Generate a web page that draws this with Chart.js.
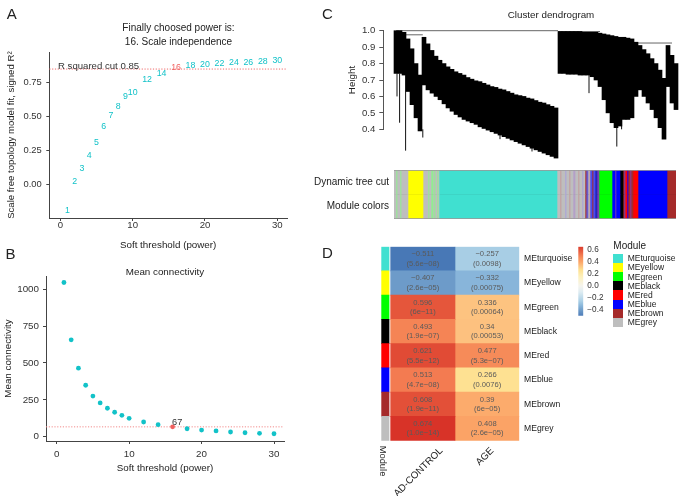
<!DOCTYPE html>
<html>
<head>
<meta charset="utf-8">
<script src="https://cdn.jsdelivr.net/npm/chart.js@4.4.1/dist/chart.umd.min.js"></script>
<style>
  html, body { margin: 0; padding: 0; background: #fff; }
  #page { position: relative; width: 679px; height: 496px; overflow: hidden;
          font-family: "Liberation Sans", Arial, sans-serif; color: #222; }
  #page canvas { position: absolute; left: 0; top: 0; }
  .t { position: absolute; white-space: nowrap; line-height: 1; }
</style>
</head>
<body>
<div id="page">
  <canvas id="fitChart" width="679" height="496"></canvas>
  <canvas id="kChart" width="679" height="496"></canvas>
  <canvas id="dendroChart" width="679" height="496"></canvas>
  <canvas id="stripChart" width="679" height="496"></canvas>
  <canvas id="heatChart" width="679" height="496"></canvas>
  <canvas id="scaleChart" width="679" height="496"></canvas>
</div>
<script>
// ---- panel A / B: soft threshold ----
const powers = [1, 2, 3, 4, 5, 6, 7, 8, 9, 10, 12, 14, 16, 18, 20, 22, 24, 26, 28, 30]
const scaleFitR2 = [-0.19, 0.02, 0.12, 0.215, 0.31, 0.43, 0.505, 0.575, 0.65, 0.675,
  0.77, 0.82, 0.863, 0.875, 0.885, 0.89, 0.9, 0.9, 0.905, 0.915]
const meanConnectivity = [1046, 657, 465, 349, 276, 229, 193, 166, 145, 125,
  100, 82, 67, 54, 45, 39, 32, 27, 23, 20]
const chosenPower = 16
const rSquaredCut = 0.85
const fitTicksX = [0, 10, 20, 30]
const fitTicksY = [0, 0.25, 0.5, 0.75]
const kTicksY = [0, 250, 500, 750, 1000]

// ---- panel C: dendrogram (4 px leaf bins) and module colour strip ----
const dendroLow = [0.74, 0.74, 0.73,
  0.63, 0.55, 0.47, 0.39,
  0.67, 0.64, 0.62, 0.60, 0.58, 0.555, 0.53, 0.51, 0.49, 0.475,
  0.46, 0.45, 0.44, 0.43, 0.415, 0.405, 0.395, 0.385, 0.375, 0.365,
  0.355, 0.345, 0.335, 0.325, 0.315, 0.305, 0.295, 0.285, 0.275, 0.265,
  0.255, 0.245, 0.235, 0.225,
  0.74, 0.74, 0.735, 0.735, 0.735, 0.73, 0.73, 0.73, 0.72,
  0.70, 0.66, 0.58, 0.50, 0.44, 0.41, 0.42, 0.46, 0.46, 0.47,
  0.60, 0.64, 0.60, 0.56, 0.52, 0.47, 0.41, 0.34,
  0.66, 0.56, 0.52]
const dendroHigh = [1.0, 1.0, 0.99,
  0.95, 0.89, 0.80, 0.73,
  0.96, 0.92, 0.88, 0.845, 0.82, 0.80, 0.78, 0.765, 0.75, 0.74,
  0.73, 0.715, 0.705, 0.695, 0.69, 0.68, 0.67, 0.66, 0.655, 0.645,
  0.64, 0.63, 0.62, 0.61, 0.605, 0.60, 0.59, 0.585, 0.575, 0.565,
  0.56, 0.55, 0.54, 0.53,
  0.995, 0.995, 0.995, 0.995, 0.995, 0.995, 0.99, 0.99, 0.99,
  0.99, 0.985, 0.98, 0.975, 0.97, 0.965, 0.96, 0.96, 0.955, 0.95,
  0.93, 0.91, 0.885, 0.86, 0.83, 0.80, 0.76, 0.71,
  0.91, 0.85, 0.80]
const spikeBin = [0.25, 0.9, 2.4, 6.7, 26, 34, 48.25, 55.2, 56.4]
const spikeLow = [0.60, 0.44, 0.27, 0.35, 0.34, 0.265, 0.62, 0.295, 0.40]
const spikeTop = [0.74, 0.74, 0.73, 0.40, 0.37, 0.29, 0.73, 0.41, 0.42]
const mergeFrom = [0, 2.4, 40.5, 57.5]
const mergeTo = [40.5, 6.7, 51, 69]
const mergeHeight = [1.0, 0.975, 0.995, 0.925]
const dendroTicks = [0.4, 0.5, 0.6, 0.7, 0.8, 0.9, 1.0]

const stripModule = ['grey', 'lightgreen', 'grey', 'lightgreen', 'grey', 'yellow', 'grey', 'lightgreen',
  'grey', 'lightgreen', 'grey', 'lightgreen', 'grey', 'lightgreen', 'grey', 'turquoise',
  'grey', 'rosy', 'grey', 'lavender', 'grey', 'rosy', 'grey', 'mauve', 'grey', 'rosy', 'grey',
  'lavender', 'grey', 'brown', 'slate', 'grey', 'rosy', 'midblue', 'brown', 'midblue', 'darkblue',
  'purple', 'green', 'blue', 'purple', 'blue', 'black', 'brown', 'purple', 'red', 'blue', 'brown',
  'purple', 'brown', 'red', 'blue', 'brown']
const stripWidth = [2, 1, 3, 1, 7, 15, 5, 1,
  2, 2, 1, 1, 2, 1, 1, 118,
  3, 1, 4, 1, 3, 1, 3, 2, 3, 1, 3,
  1, 2, 1, 2, 1, 1, 2, 1, 2, 2,
  2, 13, 3, 1, 4, 3, 1, 1, 2, 1, 2,
  1, 2, 5, 29, 9]
const stripRows = ['Dynamic tree cut', 'Module colors']

// ---- panel D: module-trait relationships ----
const moduleNames = ['MEturquoise', 'MEyellow', 'MEgreen', 'MEblack', 'MEred', 'MEblue', 'MEbrown', 'MEgrey']
const moduleKeys = ['turquoise', 'yellow', 'green', 'black', 'red', 'blue', 'brown', 'grey']
const traitNames = ['AD-CONTROL', 'AGE']
const corAD = [-0.511, -0.407, 0.596, 0.493, 0.621, 0.513, 0.608, 0.674]
const pAD = ['5.6e\u221208', '2.6e\u221205', '6e\u221211', '1.9e\u221207', '5.5e\u221212', '4.7e\u221208', '1.9e\u221211', '1.0e\u221214']
const corAge = [-0.257, -0.332, 0.336, 0.34, 0.477, 0.266, 0.39, 0.408]
const pAge = ['0.0098', '0.00075', '0.00064', '0.00053', '5.3e\u221207', '0.0076', '6e\u221205', '2.6e\u221205']
const scaleTicks = [-0.4, -0.2, 0, 0.2, 0.4, 0.6]

// ---- styles ----
const FONT = '"Liberation Sans", Arial, sans-serif'
Chart.defaults.font.family = FONT
Chart.defaults.color = '#222'
Chart.defaults.animation = false

const cyan = '#12c2c8'
const red = '#f0605f'
const colorOf = {
  grey: '#bebebe', lightgreen: '#90ee90', yellow: '#ffff00', turquoise: '#40e0d0',
  green: '#00ff00', blue: '#0000ff', black: '#000000', red: '#ff0000', brown: '#a52a2a',
  rosy: '#c39a9a', lavender: '#a8a0dc', mauve: '#b49fc8', slate: '#6a5acd',
  purple: '#7b3fb0', darkblue: '#2424bb', midblue: '#4b4bef'
}
const heatStops = [
  [-0.52, [69, 117, 180]], [-0.40, [111, 157, 202]], [-0.33, [137, 182, 218]],
  [-0.25, [171, 208, 230]], [-0.10, [222, 236, 242]], [0.0, [245, 244, 238]],
  [0.15, [253, 241, 190]], [0.27, [254, 224, 144]], [0.34, [253, 193, 127]],
  [0.40, [252, 166, 104]], [0.48, [246, 138, 88]], [0.51, [243, 124, 82]],
  [0.60, [228, 84, 58]], [0.68, [215, 48, 39]]
]
function heatColor(v) {
  if (v <= heatStops[0][0]) return 'rgb(' + heatStops[0][1].join(',') + ')'
  for (let i = 1; i < heatStops.length; i++) {
    const [v1, c1] = heatStops[i]
    const [v0, c0] = heatStops[i - 1]
    if (v <= v1) {
      const f = (v - v0) / (v1 - v0)
      return 'rgb(' + c0.map((c, k) => Math.round(c + (c1[k] - c) * f)).join(',') + ')'
    }
  }
  return 'rgb(' + heatStops[heatStops.length - 1][1].join(',') + ')'
}
const minus = (v) => (v < 0 ? '\u2212' + Math.abs(v) : String(v))

function plainAxis(extra) {
  return Object.assign({
    border: { display: true, color: '#444', width: 1 },
    grid: { display: true, drawOnChartArea: false, drawTicks: true, tickLength: 3, color: '#444' },
  }, extra)
}
const base = { responsive: false, animation: false, events: [], devicePixelRatio: 1 }
const noChrome = { legend: { display: false }, tooltip: { enabled: false } }

// dotted horizontal cut line through the y scale
const cutLine = {
  id: 'cutLine',
  beforeDatasetsDraw(chart, args, opts) {
    const { ctx, chartArea } = chart
    const y = chart.scales.y.getPixelForValue(opts.value)
    ctx.save()
    ctx.strokeStyle = opts.color
    ctx.lineWidth = 1
    ctx.setLineDash([1.2, 1.6])
    ctx.beginPath()
    ctx.moveTo(chartArea.left, y)
    ctx.lineTo(chartArea.right, y)
    ctx.stroke()
    ctx.restore()
  }
}

// panel A draws each power as text at its point
const powerLabels = {
  id: 'powerLabels',
  afterDatasetsDraw(chart) {
    const ctx = chart.ctx
    ctx.save()
    ctx.font = '8.8px ' + FONT
    ctx.textAlign = 'center'
    ctx.textBaseline = 'middle'
    chart.getDatasetMeta(0).data.forEach((pt, i) => {
      ctx.fillStyle = powers[i] === chosenPower ? red : cyan
      ctx.fillText(String(powers[i]), pt.x, pt.y)
    })
    ctx.restore()
  }
}

new Chart(document.getElementById('fitChart'), {
  type: 'scatter',
  data: { datasets: [{ data: powers.map((p, i) => ({ x: p, y: scaleFitR2[i] })), pointRadius: 0 }] },
  plugins: [cutLine, powerLabels],
  options: {
    ...base,
    layout: { padding: { left: 0, top: 52.3, right: 392, bottom: 245 } },
    plugins: { ...noChrome, cutLine: { value: rSquaredCut, color: '#ef6a6a' } },
    scales: {
      x: plainAxis({
        min: -1.52, max: 31.34,
        afterBuildTicks: (s) => { s.ticks = fitTicksX.map((v) => ({ value: v })) },
        afterFit: (s) => { s.height = 33 },
        ticks: { color: '#333', font: { size: 9.6 }, padding: -1.2 },
        title: { display: true, text: 'Soft threshold (power)', color: '#222', font: { size: 9.8 }, padding: 0 }
      }),
      y: plainAxis({
        min: -0.244, max: 0.973,
        afterBuildTicks: (s) => { s.ticks = fitTicksY.map((v) => ({ value: v })) },
        afterFit: (s) => { s.width = 49.3 },
        ticks: { color: '#333', font: { size: 9.4 }, padding: 4.5, callback: (v) => v.toFixed(2) },
        title: { display: true, text: 'Scale free topology model fit, signed R\u00b2', color: '#222',
          font: { size: 9.6 }, padding: { top: 6, bottom: 0 } }
      })
    }
  }
})

new Chart(document.getElementById('kChart'), {
  type: 'scatter',
  data: {
    datasets: [{
      data: powers.map((p, i) => ({ x: p, y: meanConnectivity[i] })),
      pointRadius: 2.4,
      pointBorderWidth: 0,
      pointBackgroundColor: powers.map((p) => (p === chosenPower ? red : cyan))
    }]
  },
  plugins: [cutLine],
  options: {
    ...base,
    layout: { padding: { left: 0, top: 276, right: 395, bottom: 22 } },
    plugins: { ...noChrome, cutLine: { value: meanConnectivity[powers.indexOf(chosenPower)], color: '#f28c8c' } },
    scales: {
      x: plainAxis({
        min: -1.477, max: 31.38,
        afterBuildTicks: (s) => { s.ticks = fitTicksX.map((v) => ({ value: v })) },
        afterFit: (s) => { s.height = 33 },
        ticks: { color: '#333', font: { size: 9.8 }, padding: 4 },
        title: { display: true, text: 'Soft threshold (power)', color: '#222', font: { size: 9.8 }, padding: 0 }
      }),
      y: plainAxis({
        min: -29, max: 1090,
        afterBuildTicks: (s) => { s.ticks = kTicksY.map((v) => ({ value: v })) },
        afterFit: (s) => { s.width = 46 },
        ticks: { color: '#333', font: { size: 9.8 }, padding: 4, callback: (v) => String(v) },
        title: { display: true, text: 'Mean connectivity', color: '#222', font: { size: 9.8 }, padding: { top: 2.5, bottom: 0 } }
      })
    }
  }
})

// ---- dendrogram ----
const spikeData = spikeBin.flatMap((b, i) => [{ x: b, y: spikeLow[i] }, { x: b, y: spikeTop[i] }, { x: b, y: null }])
const mergeData = mergeFrom.flatMap((a, i) => [{ x: a, y: mergeHeight[i] }, { x: mergeTo[i], y: mergeHeight[i] }, { x: mergeTo[i], y: null }])

new Chart(document.getElementById('dendroChart'), {
  type: 'bar',
  data: {
    datasets: [
      {
        data: dendroLow.map((lo, i) => ({ x: i, y: [lo, dendroHigh[i]] })),
        backgroundColor: '#000', borderWidth: 0, grouped: false,
        barPercentage: 1, categoryPercentage: 1, clip: false
      },
      { type: 'line', data: spikeData, borderColor: '#111', borderWidth: 1, pointRadius: 0, spanGaps: false, clip: false },
      { type: 'line', data: mergeData, borderColor: '#666', borderWidth: 1, pointRadius: 0, spanGaps: false, clip: false }
    ]
  },
  options: {
    ...base,
    layout: { padding: { left: 340, top: 30.7, right: 1, bottom: 366.7 } },
    plugins: noChrome,
    scales: {
      x: { type: 'linear', display: false, offset: false, min: -3.175, max: 70.5 },
      y: plainAxis({
        min: 0.4, max: 1.0,
        afterBuildTicks: (s) => { s.ticks = dendroTicks.map((v) => ({ value: v })) },
        afterFit: (s) => { s.width = 43.3 },
        ticks: { color: '#333', font: { size: 9.6 }, padding: 4, callback: (v) => v.toFixed(1) },
        border: { display: true, color: '#555' },
        grid: { display: true, drawOnChartArea: false, drawTicks: true, tickLength: 4, color: '#555' },
        title: { display: true, text: 'Height', color: '#222', font: { size: 9.8 }, padding: { top: 6.3, bottom: 0 } }
      })
    }
  }
})

new Chart(document.getElementById('stripChart'), {
  type: 'bar',
  data: {
    labels: stripRows,
    datasets: stripModule.map((m, i) => ({
      data: stripRows.map(() => stripWidth[i]),
      backgroundColor: colorOf[m], borderWidth: 0,
      barPercentage: 1, categoryPercentage: 1
    }))
  },
  options: {
    ...base,
    indexAxis: 'y',
    layout: { padding: { left: 0, top: 170.7, right: 3, bottom: 277.7 } },
    plugins: noChrome,
    scales: {
      x: { display: false, stacked: true, min: 0, max: stripWidth.reduce((a, b) => a + b, 0) },
      y: {
        stacked: true, z: 1,
        afterFit: (s) => { s.width = 394 },
        ticks: { color: '#222', font: { size: 10 }, padding: 5 },
        border: { display: true, color: '#999' },
        grid: { drawTicks: false, lineWidth: (c) => (c.index === 1 ? 1.2 : 1), color: (c) => (c.index === 1 ? '#222' : '#999') }
      }
    }
  }
})

// ---- module-trait heatmap ----
const stripRange = [-0.146, -0.026]
const cellText = {
  id: 'cellText',
  afterDatasetsDraw(chart) {
    const ctx = chart.ctx
    ctx.save()
    ctx.font = '7.6px ' + FONT
    ctx.textAlign = 'center'
    ctx.textBaseline = 'middle'
    ctx.fillStyle = '#5a5a5a'
    ;[[1, corAD, pAD], [2, corAge, pAge]].forEach(([di, vals, ps]) => {
      chart.getDatasetMeta(di).data.forEach((bar, i) => {
        const cx = (bar.x + bar.base) / 2
        ctx.fillText(minus(vals[i]), cx, bar.y - 4.7)
        ctx.fillText('(' + ps[i] + ')', cx, bar.y + 4.7)
      })
    })
    ctx.restore()
  }
}

new Chart(document.getElementById('heatChart'), {
  type: 'bar',
  data: {
    labels: moduleNames,
    datasets: [
      { data: moduleNames.map(() => stripRange), backgroundColor: moduleKeys.map((k) => colorOf[k]) },
      { data: corAD.map(() => [0, 1]), backgroundColor: corAD.map(heatColor) },
      { data: corAge.map(() => [1, 2]), backgroundColor: corAge.map(heatColor) }
    ].map((d) => Object.assign(d, { grouped: false, borderWidth: 0, barPercentage: 1, categoryPercentage: 1 }))
  },
  plugins: [cellText],
  options: {
    ...base,
    indexAxis: 'y',
    layout: { padding: { left: 381.3, top: 246.7, right: 99.7, bottom: 55.3 } },
    plugins: noChrome,
    scales: {
      x: { display: false, min: stripRange[0], max: 2 },
      y: {
        position: 'right',
        afterFit: (s) => { s.width = 60 },
        ticks: { color: '#222', font: { size: 8.6 }, padding: 4.7 },
        border: { display: false },
        grid: { display: false, drawTicks: false }
      }
    }
  }
})

// colour key for the heatmap
new Chart(document.getElementById('scaleChart'), {
  type: 'bar',
  data: {
    labels: [''],
    datasets: [{
      data: [[-0.495, 0.655]],
      barPercentage: 1, categoryPercentage: 1, borderWidth: 0,
      backgroundColor: (c) => {
        const a = c.chart.chartArea
        if (!a) return '#fff'
        const g = c.chart.ctx.createLinearGradient(0, a.bottom, 0, a.top)
        heatStops.forEach(([v, rgb]) => {
          const f = (v + 0.495) / (0.655 + 0.495)
          if (f >= 0 && f <= 1) g.addColorStop(f, 'rgb(' + rgb.join(',') + ')')
        })
        g.addColorStop(0, heatColor(-0.495))
        g.addColorStop(1, heatColor(0.655))
        return g
      }
    }]
  },
  options: {
    ...base,
    layout: { padding: { left: 578.3, top: 246.7, right: 65.7, bottom: 180.3 } },
    plugins: noChrome,
    scales: {
      x: { display: false },
      y: {
        position: 'right', min: -0.495, max: 0.655,
        afterBuildTicks: (s) => { s.ticks = scaleTicks.map((v) => ({ value: v })) },
        afterFit: (s) => { s.width = 30 },
        ticks: { color: '#333', font: { size: 8.2 }, padding: 4, callback: (v) => minus(Number(v.toFixed(1))).replace(/^(\u2212?\d)$/, '$1.0') },
        border: { display: false },
        grid: { display: false, drawTicks: false }
      }
    }
  }
})

// ---- text ----
const page = document.getElementById('page')
function addText(text, x, y, size, opts = {}) {
  const d = document.createElement('div')
  d.className = 't'
  d.textContent = text
  d.style.left = x + 'px'
  d.style.top = y + 'px'
  d.style.fontSize = size + 'px'
  if (opts.color) d.style.color = opts.color
  const ax = opts.align === 'left' ? '0' : opts.align === 'right' ? '-100%' : '-50%'
  let tf = 'translate(' + ax + ',-50%)'
  if (opts.rotate) {
    d.style.transformOrigin = opts.align === 'right' ? '100% 50%' : '50% 50%'
    tf += ' rotate(' + opts.rotate + 'deg)'
  }
  d.style.transform = tf
  page.appendChild(d)
}
addText('A', 11.7, 13.3, 15)
addText('B', 10.5, 252.5, 15)
addText('C', 327.5, 12.8, 15)
addText('D', 327.5, 251.8, 15)
addText('Finally choosed power is:', 178.5, 28, 10)
addText(chosenPower + '. Scale independence', 178.5, 42, 10)
addText('R squared cut ' + rSquaredCut, 58, 66.3, 9.6, { align: 'left', color: '#333' })
addText('Mean connectivity', 165, 272, 9.8)
addText(String(meanConnectivity[powers.indexOf(chosenPower)]), 177.2, 423.3, 9.2, { color: '#333' })
addText('Cluster dendrogram', 551, 15, 9.8)
addText('Module', 382.5, 460.8, 9.4, { rotate: 90 })
addText(traitNames[0], 441, 449, 9.8, { align: 'right', rotate: -45 })
addText(traitNames[1], 492, 449, 9.8, { align: 'right', rotate: -45 })

// module legend
addText('Module', 613.3, 245.7, 10, { align: 'left' })
moduleNames.forEach((name, i) => {
  const sw = document.createElement('div')
  sw.style.cssText = 'position:absolute;left:613.3px;width:10px;height:9.2px;top:' + (253.7 + i * 9.17) + 'px;background:' + colorOf[moduleKeys[i]]
  page.appendChild(sw)
  addText(name, 627.7, 258.3 + i * 9.17, 8.5, { align: 'left' })
})
</script>
</body>
</html>
